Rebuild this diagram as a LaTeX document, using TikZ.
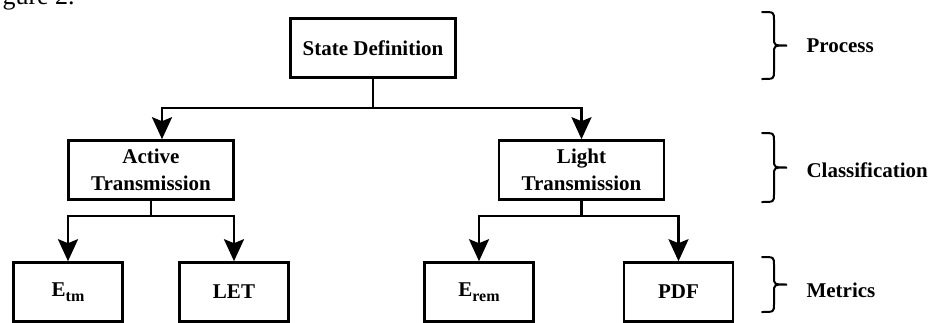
\documentclass[tikz,border=0pt]{standalone}
\usepackage{fontspec}
\setmainfont{Liberation Serif}
\usetikzlibrary{arrows.meta,calc}
\newcommand\mysubtxt[1]{\raisebox{-5pt}{\fontsize{16}{16}\selectfont #1}}
\begin{document}
\begin{tikzpicture}[x=1pt,y=-1pt,
  box/.style={draw=black,line width=2.6pt,minimum height=59pt,inner sep=0pt,align=center,font=\fontsize{21}{27}\selectfont\bfseries},
  bigbox/.style={box,minimum width=165pt},
  smallbox/.style={box,minimum width=109pt},
  link/.style={line width=2.6pt},
  arr/.style={link,-{Stealth[length=22pt,width=20pt,inset=4pt]}},
  bracepath/.style={line width=2pt,line cap=round},
  lab/.style={anchor=base west,font=\fontsize{21}{24}\selectfont\bfseries}
]
\useasboundingbox (0,0) rectangle (930,322);

\node[anchor=base west,font=\fontsize{26}{30}\selectfont] (cap) at (-1,4) {gure 2.};

\node[bigbox] (sd) at (373,48) {State Definition};
\node[bigbox] (at) at (151,170) {Active\\Transmission};
\node[bigbox] (lt) at (581.5,170) {Light\\Transmission};
\node[smallbox] (etm) at (68,292) {E\mysubtxt{tm}};
\node[smallbox] (let) at (234,292) {LET};
\node[smallbox] (erem) at (479,292) {E\mysubtxt{rem}};
\node[smallbox] (pdf) at (678.5,292) {PDF};

\draw[link] (sd.south) -- ++(0,29) coordinate (bus);
\draw[arr] (bus) -| ([xshift=11pt]at.north);
\draw[arr] (bus) -| (lt.north);

\draw[link] (at.south) -- ++(0,15) coordinate (busA);
\draw[arr] (busA) -| (etm.north);
\draw[arr] (busA) -| (let.north);

\draw[link] (lt.south) -- ++(0,15) coordinate (busL);
\draw[arr] (busL) -| (erem.north);
\draw[arr] (busL) -| (pdf.north);

% braces
\draw[bracepath] (762,12) .. controls (774,12) .. (774,20) -- (774,38) .. controls (774,45.5) .. (787,45.5) .. controls (774,45.5) .. (774,53) -- (774,71) .. controls (774,79) .. (762,79);
\draw[bracepath] (762,133) .. controls (774,133) .. (774,141) -- (774,160) .. controls (774,167.5) .. (787,167.5) .. controls (774,167.5) .. (774,175) -- (774,194) .. controls (774,202) .. (762,202);
\draw[bracepath] (762,257) .. controls (774,257) .. (774,265) -- (774,277) .. controls (774,284.5) .. (787,284.5) .. controls (774,284.5) .. (774,292) -- (774,304) .. controls (774,312) .. (762,312);

\node[lab] (lproc) at (803,52) {Process};
\node[lab] (lclass) at (803,177) {Classification};
\node[lab] (lmet) at (803,297) {Metrics};
\end{tikzpicture}
\end{document}
